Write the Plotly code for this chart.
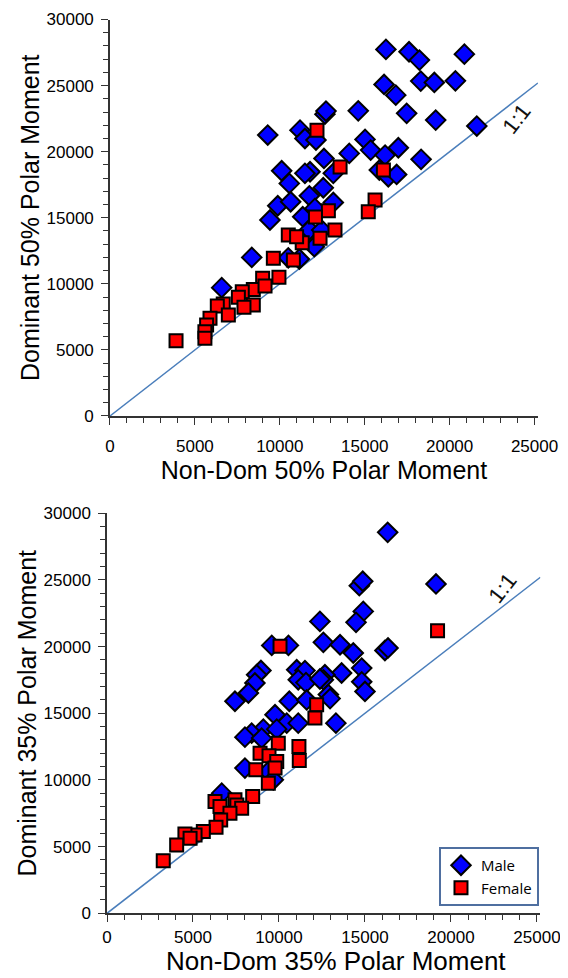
import plotly.graph_objects as go

# ---------------- data (polar moment values) ----------------
# Top panel: 50% site
male50_nondom = [16250, 17610, 18220, 20870, 16140, 16830, 18300, 19100, 20340, 14620,
                 17470, 19180, 21600, 15020, 15350, 14090, 16200, 16980, 18320, 12600,
                 15860, 16390, 16880, 11780, 11480, 13150, 12560, 11740, 13150, 12070,
                 12660, 12720, 9290, 11190, 11480, 12130, 10110, 10560, 9880, 10640,
                 9420, 11350, 11740, 12470, 12030, 8350, 10500, 11150, 6580]
male50_dom = [27740, 27560, 26930, 27380, 25090, 24280, 25340, 25240, 25360, 23090,
              22900, 22390, 21940, 20930, 20120, 19870, 19740, 20300, 19420, 19490,
              18610, 18100, 18280, 18480, 18360, 18360, 17270, 16660, 16160, 15710,
              22840, 23070, 21260, 21630, 21000, 20880, 18560, 17600, 15910, 16210,
              14830, 15080, 14070, 14070, 12810, 12000, 11970, 11880, 9710]
female50_nondom = [12190, 13550, 16100, 15610, 15210, 12860, 12100, 10500, 11320, 12370,
                   13250, 10990, 9620, 10800, 8990, 9950, 8440, 9130, 7790, 7560,
                   8440, 7890, 6670, 6320, 6970, 5890, 5690, 5590, 5590, 3890]
female50_dom = [21630, 18840, 18610, 16340, 15450, 15530, 15050, 13690, 13110, 13440,
                14070, 13560, 11930, 11800, 10420, 10490, 9580, 9830, 9400, 8980,
                8400, 8220, 8470, 8320, 7640, 7390, 6880, 6380, 5880, 5700]

# Bottom panel: 35% site
male35_nondom = [16320, 14670, 14870, 19130, 14900, 14480, 12380, 12580, 13550, 14320,
                 16160, 16340, 14810, 13640, 12670, 12580, 11030, 11510, 11120, 11570,
                 14810, 15000, 12870, 12970, 9580, 10550, 8950, 8700, 12380, 8600,
                 8220, 7440, 10600, 11610, 9770, 10450, 11120, 13310, 9090, 9870,
                 8410, 8020, 8990, 8020, 9380, 9670, 6670]
male35_dom = [28570, 24570, 24900, 24700, 22640, 21820, 21890, 20320, 20140, 19520,
              19710, 19900, 18390, 18020, 17890, 17510, 18270, 18200, 17510, 17300,
              17360, 16640, 16400, 16100, 20090, 20090, 18210, 17890, 17570, 17270,
              16520, 15900, 15900, 16000, 14890, 14260, 14260, 14260, 13810, 13810,
              13510, 13210, 13140, 10890, 10630, 10010, 9010]
female35_nondom = [19220, 10060, 12190, 12090, 9960, 8900, 9420, 9870, 9770, 11160,
                   11180, 8650, 9380, 8470, 7440, 7550, 6280, 6570, 7830, 7150,
                   6610, 6340, 5600, 5120, 4530, 4830, 4050, 3270]
female35_dom = [21190, 20020, 15640, 14640, 12760, 12010, 11810, 11380, 10890, 12510,
                11460, 10760, 9760, 8750, 8510, 8130, 8380, 8000, 7880, 7510,
                7000, 6460, 6130, 5880, 5950, 5630, 5130, 3950]

# 1:1 reference line end points
ref_x = [0, 25200]
ref_y = [0, 25200]

x_ticks_major = 5000
minor_step = 1000
x_range = [0, 25200]
y_range = [0, 30000]

FONT = "Liberation Sans, Arial, sans-serif"
AX = "#333333"
BLUE = "#0000ff"
RED = "#ff0000"
LINE = "#4a7ebb"

fig = go.Figure()

panels = [
    ("x", "y", male50_nondom, male50_dom, female50_nondom, female50_dom, False),
    ("x2", "y2", male35_nondom, male35_dom, female35_nondom, female35_dom, True),
]
for xa, ya, mx, my, fx, fy, show in panels:
    fig.add_trace(go.Scatter(x=ref_x, y=ref_y, mode="lines", xaxis=xa, yaxis=ya,
                             line=dict(color=LINE, width=1.5), showlegend=False,
                             hoverinfo="skip"))
    fig.add_trace(go.Scatter(x=mx, y=my, mode="markers", name="Male", xaxis=xa, yaxis=ya,
                             showlegend=show, cliponaxis=False,
                             marker=dict(symbol="diamond", size=15, color=BLUE,
                                         line=dict(color="black", width=2))))
    fig.add_trace(go.Scatter(x=fx, y=fy, mode="markers", name="Female", xaxis=xa, yaxis=ya,
                             showlegend=show, cliponaxis=False,
                             marker=dict(symbol="square", size=13, color=RED,
                                         line=dict(color="black", width=2))))

def axis_common(rng):
    return dict(range=rng, tickmode="linear", tick0=0, automargin=False,
                dtick=x_ticks_major, tickformat="d", ticks="outside", ticklen=7,
                tickwidth=1.3, tickcolor=AX, showline=True, linecolor=AX, linewidth=1.5,
                showgrid=False, zeroline=False,
                tickfont=dict(family=FONT, size=17, color="black"),
                minor=dict(dtick=minor_step, ticks="outside", ticklen=5, tickwidth=1.2,
                           tickcolor=AX, showgrid=False))

def xaxis(domain, anchor, title, standoff):
    d = axis_common(x_range)
    d.update(domain=domain, anchor=anchor, ticklabelstandoff=standoff)
    if title:
        d.update(title=dict(text=title, standoff=0,
                            font=dict(family=FONT, size=25, color="black")))
    return d

def yaxis(domain, anchor, title):
    d = axis_common(y_range)
    d.update(domain=domain, anchor=anchor, ticklabelstandoff=4,
             title=dict(text=title, standoff=0, font=dict(family=FONT, size=25, color="black")))
    return d

# the page body adds an 8px margin, so the figure is 8px smaller than the window
fig.update_layout(
    width=560, height=970,
    margin=dict(l=0, r=0, t=0, b=0, autoexpand=False),
    paper_bgcolor="white", plot_bgcolor="white",
    xaxis=xaxis([0.1821, 0.9463], "y", "Non-Dom 50% Polar Moment", 7),
    yaxis=yaxis([0.5794, 0.9881], "x", "Dominant 50% Polar Moment"),
    xaxis2=xaxis([0.1768, 0.9507], "y2", None, 1),
    yaxis2=yaxis([0.0667, 0.4791], "x2", "Dominant 35% Polar Moment"),
    legend=dict(x=0.9482, xanchor="right", y=0.0742, yanchor="bottom",
                bordercolor="#4f6fa0", borderwidth=2, bgcolor="white",
                font=dict(family="Open Sans, sans-serif", size=15, color="black"),
                tracegroupgap=0, itemwidth=30),
    annotations=[
        dict(x=23950, y=22520, xref="x", yref="y", text="1:1", showarrow=False,
             textangle=-52, font=dict(family=FONT, size=22, color="#111111")),
        dict(x=23020, y=24420, xref="x2", yref="y2", text="1:1", showarrow=False,
             textangle=-52, font=dict(family=FONT, size=22, color="#111111")),
        dict(x=0.5857, y=0.0, xref="paper", yref="paper", text="Non-Dom 35% Polar Moment",
             showarrow=False, xanchor="center", yanchor="bottom",
             font=dict(family=FONT, size=26, color="black")),
    ],
)

fig.write_html("out.html")
